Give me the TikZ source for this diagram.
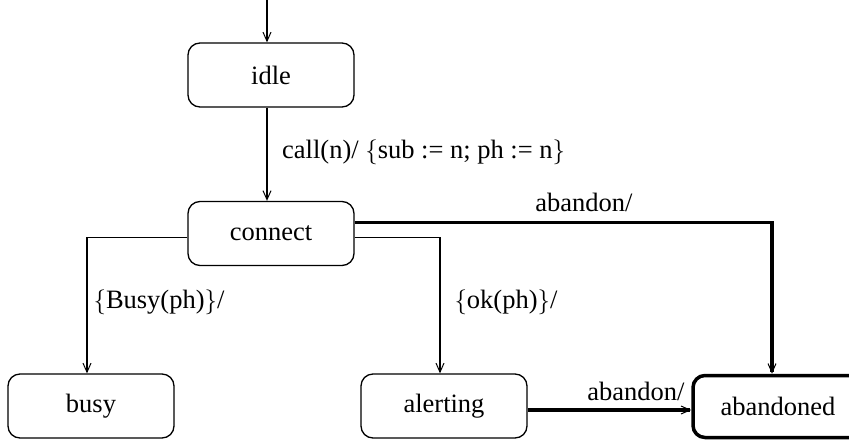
\documentclass[tikz,border=0pt]{standalone}
\usepackage{fontspec}
\setmainfont{Liberation Serif}
\usetikzlibrary{arrows.meta}
\begin{document}
\begin{tikzpicture}[x=1pt,y=-1pt,
  state/.style={draw,rectangle,rounded corners=12pt,minimum width=166pt,minimum height=64pt,line width=1.3pt,font=\fontsize{26.5}{30}\selectfont,inner sep=0pt},
  thinline/.style={line width=1.3pt,-{Straight Barb[length=9pt,width=8pt,line width=1pt]}},
  thickline/.style={line width=3.5pt,-{Straight Barb[length=9pt,width=8pt,line width=1pt]}},
  lbl/.style={font=\fontsize{26.5}{30}\selectfont,inner sep=0pt}]
\useasboundingbox (0,0) rectangle (849,442);
\node[state] (idle) at (271,75) {idle};
\node[state] (connect) at (271,233.5) {connect};
\node[state] (busy) at (91,406) {busy};
\node[state] (alerting) at (444,406) {alerting};
\node[state,line width=3.5pt,minimum width=170pt,minimum height=62pt] (abandoned) at (778,406.5) {abandoned};
\coordinate (start) at (267,0);
\draw[thinline] (start) -- (start |- idle.north);
\draw[thinline] ([xshift=-4pt]idle.south) -- ([xshift=-4pt]connect.north);
\node[lbl,anchor=west] (l1) at (282,152) {call(n)/ $\{$sub := n; ph := n$\}$};
\draw[thinline] ([yshift=-4pt]connect.west) -| ([xshift=-4pt]busy.north);
\draw[thinline] ([yshift=-4pt]connect.east) -| ([xshift=-4pt]alerting.north);
\draw[thickline] ([yshift=11pt]connect.east) -| ([xshift=-6pt]abandoned.north);
\draw[thickline] ([yshift=-4pt]alerting.east) -- (abandoned.west |- 0,410);
\node[lbl] (l2) at (159,302) {$\{$Busy(ph)$\}$/};
\node[lbl] (l3) at (506,302) {$\{$ok(ph)$\}$/};
\node[lbl] (l4) at (584,202) {abandon/};
\node[lbl] (l5) at (636,391) {abandon/};
\end{tikzpicture}
\end{document}
